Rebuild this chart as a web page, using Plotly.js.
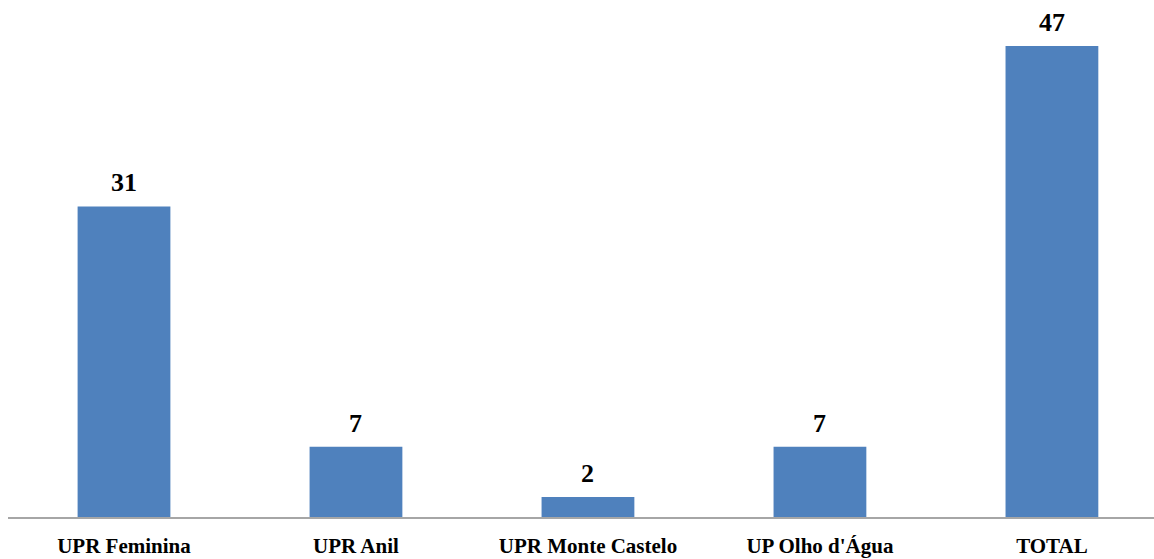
<!DOCTYPE html>
<html>
<head>
<meta charset="utf-8">
<script src="https://cdn.plot.ly/plotly-3.0.1.min.js"></script>
<style>html,body{margin:0;padding:0;background:#fff;}#chart{width:1154px;height:559px;}</style>
</head>
<body>
<div id="chart"></div>
<script>
const categories = ["UPR Feminina", "UPR Anil", "UPR Monte Castelo", "UP Olho d'Água", "TOTAL"];
const values = [31, 7, 2, 7, 47];

const fontFam = "Liberation Serif";

const trace = {
  type: 'bar',
  x: categories,
  y: values,
  marker: {color: '#4F81BD'},
  textposition: 'none',
  hoverinfo: 'x+y'
};

const annotations = categories.map((c, i) => ({
  x: c, y: values[i], xref: 'x', yref: 'y',
  text: '<b>' + values[i] + '</b>',
  showarrow: false, yanchor: 'bottom', yshift: 7,
  font: {family: fontFam, size: 26, color: '#000'}
}));

const layout = {
  width: 1154, height: 559,
  margin: {l: 8, r: 0, t: 0, b: 42},
  paper_bgcolor: '#fff', plot_bgcolor: '#fff',
  bargap: 0.6,
  showlegend: false,
  xaxis: {
    type: 'category',
    range: [-0.5, 4.44],
    showline: true, linecolor: '#A6A6A6', linewidth: 2,
    ticks: 'outside', ticklen: 9, tickcolor: 'rgba(0,0,0,0)',
    tickfont: {family: fontFam, size: 21, color: '#000', weight: 'bold'},
    showgrid: false, zeroline: false, fixedrange: true
  },
  yaxis: {
    range: [0, 51.6],
    visible: false, showgrid: false, zeroline: false, fixedrange: true
  },
  annotations: annotations
};

Plotly.newPlot('chart', [trace], layout, {displayModeBar: false, staticPlot: true});
</script>
</body>
</html>
